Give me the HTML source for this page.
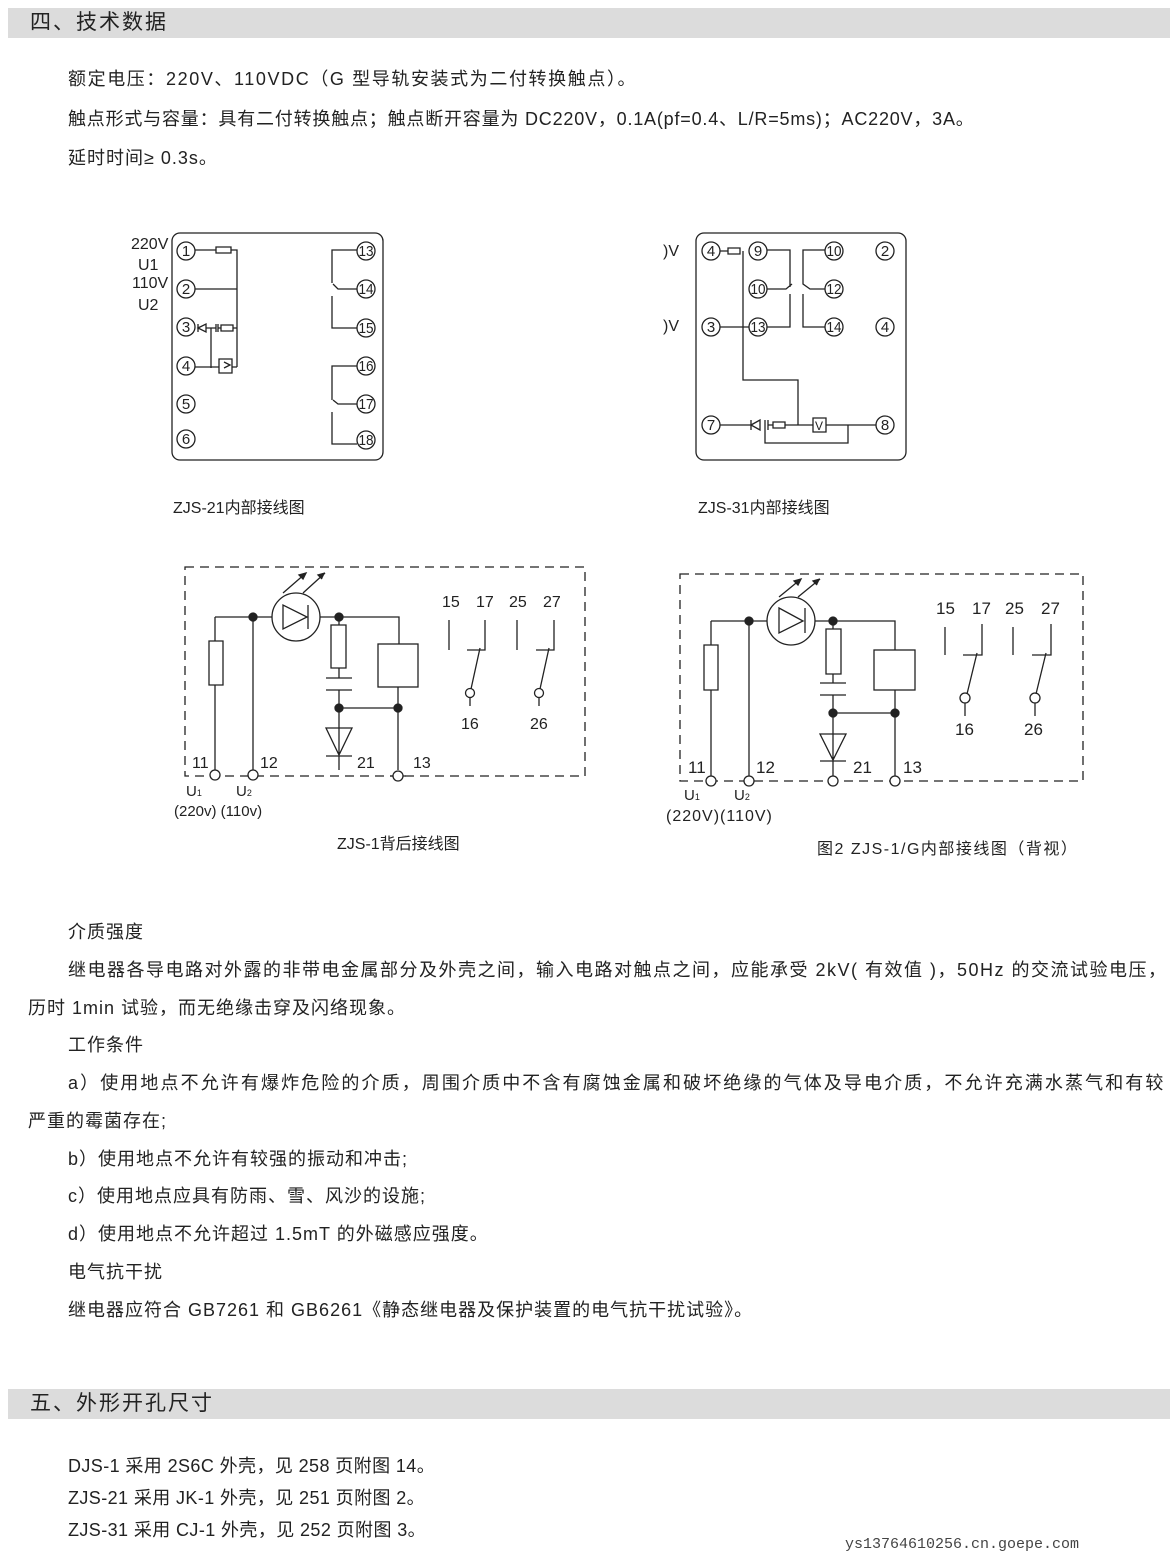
<!DOCTYPE html>
<html><head><meta charset="utf-8"><style>
body{margin:0;background:#fff;}
#p{position:relative;width:1170px;height:1561px;overflow:hidden;font-family:"Liberation Sans","Noto Sans CJK SC",sans-serif;color:#222;}
.t{position:absolute;white-space:nowrap;font-size:18px;line-height:20px;letter-spacing:1px;}
.h{position:absolute;left:8px;width:1162px;height:30px;background:#dcdcdc;font-size:21px;line-height:30px;}
.h span{margin-left:22px;letter-spacing:2px;}
svg{position:absolute;left:0;top:0;}
svg text{font-family:"Liberation Sans","Noto Sans CJK SC",sans-serif;fill:#222;}
</style></head><body><div id="p">
<div class="h" style="top:8px"><span>四、技术数据</span></div>
<div class="t" style="left:68px;top:69px;letter-spacing:1.6px">额定电压：220V、110VDC（G 型导轨安装式为二付转换触点）。</div>
<div class="t" style="left:68px;top:109px;letter-spacing:0.8px">触点形式与容量：具有二付转换触点；触点断开容量为 DC220V，0.1A(pf=0.4、L/R=5ms)；AC220V，3A。</div>
<div class="t" style="left:68px;top:148px">延时时间≥ 0.3s。</div>

<svg width="1170" height="1561" viewBox="0 0 1170 1561" fill="none" stroke="#222" stroke-width="1.3">
<!-- ZJS-21 -->
<rect x="172" y="233" width="211" height="227" rx="8"/>
<g font-size="16" stroke="none" fill="#222">
<text x="131" y="249">220V</text><text x="138" y="270">U1</text><text x="132" y="288">110V</text><text x="138" y="310">U2</text>
</g>
<g>
<circle cx="186" cy="251" r="9"/><circle cx="186" cy="289" r="9"/><circle cx="186" cy="327" r="9"/><circle cx="186" cy="366" r="9"/><circle cx="186" cy="404" r="9"/><circle cx="186" cy="439" r="9"/>
<circle cx="366" cy="251" r="9"/><circle cx="366" cy="289" r="9"/><circle cx="366" cy="328" r="9"/><circle cx="366" cy="366" r="9"/><circle cx="366" cy="404" r="9"/><circle cx="366" cy="440" r="9"/>
<path d="M195 250H216M216 247h15v6h-15zM231 250H237V367M195 289H237M233 328H237M221 325h12v6h-12zM216 324v8M218 324v8M218 328H221M206 328H216M198 328l8-4v8zM198 324v8M211 328V368M195 367H219M219 359h13v14h-13zM232 367H237"/>
<path d="M224 362l6 3-6 3"/>
<path d="M357 250H332V283M333 284l5 5H357M332 296V328H357M357 366H332V400M333 400l5 4H357M332 412V444H357"/>
</g>
<g font-size="15" stroke="none" fill="#222" text-anchor="middle">
<text x="186" y="256">1</text><text x="186" y="294">2</text><text x="186" y="332">3</text><text x="186" y="371">4</text><text x="186" y="409">5</text><text x="186" y="444">6</text>
<text x="366" y="256" textLength="15" lengthAdjust="spacingAndGlyphs">13</text><text x="366" y="294" textLength="15" lengthAdjust="spacingAndGlyphs">14</text><text x="366" y="333" textLength="15" lengthAdjust="spacingAndGlyphs">15</text><text x="366" y="371" textLength="15" lengthAdjust="spacingAndGlyphs">16</text><text x="366" y="409" textLength="15" lengthAdjust="spacingAndGlyphs">17</text><text x="366" y="445" textLength="15" lengthAdjust="spacingAndGlyphs">18</text>
</g>
<!-- ZJS-31 -->
<rect x="696" y="233" width="210" height="227" rx="8"/>
<g font-size="16" stroke="none" fill="#222"><text x="663" y="256">)V</text><text x="663" y="331">)V</text></g>
<g>
<circle cx="711" cy="251" r="9"/><circle cx="758" cy="251" r="9"/><circle cx="834" cy="251" r="9"/><circle cx="885" cy="251" r="9"/>
<circle cx="758" cy="289" r="9"/><circle cx="834" cy="289" r="9"/>
<circle cx="711" cy="327" r="9"/><circle cx="758" cy="327" r="9"/><circle cx="834" cy="327" r="9"/><circle cx="885" cy="327" r="9"/>
<circle cx="711" cy="425" r="9"/><circle cx="885" cy="425" r="9"/>
<path d="M720 251H728M728 248h12v6h-12zM743 251V380H798V425M720 327H749M767 250H790V287M767 289H786L792 284M790 294V327H767M825 250H803V284L810 289H825M803 294V327H825"/>
<path d="M720 425H751M751 425l9-5v10zM751 420v10M765 420v10M768 420v10M768 425H773M773 422h12v6h-12zM785 425H813M813 418h13v14h-13zM826 425H876M765 425V443H848V425"/>
</g>
<g font-size="15" stroke="none" fill="#222" text-anchor="middle">
<text x="711" y="256">4</text><text x="758" y="256">9</text><text x="834" y="256" textLength="15" lengthAdjust="spacingAndGlyphs">10</text><text x="885" y="256">2</text>
<text x="758" y="294" textLength="15" lengthAdjust="spacingAndGlyphs">10</text><text x="834" y="294" textLength="15" lengthAdjust="spacingAndGlyphs">12</text>
<text x="711" y="332">3</text><text x="758" y="332" textLength="15" lengthAdjust="spacingAndGlyphs">13</text><text x="834" y="332" textLength="15" lengthAdjust="spacingAndGlyphs">14</text><text x="885" y="332">4</text>
<text x="711" y="430">7</text><text x="885" y="430">8</text><text x="819" y="430" font-size="12">V</text>
</g>
<!-- ZJS-1 -->
<g>
<rect x="185" y="567" width="400" height="209" stroke-dasharray="9,6"/>
<path d="M215 617H272M320 617H399V644M215 617V641M209 641h14v44h-14zM215 685V770M253 617V770"/>
<circle cx="296" cy="617" r="24"/><path d="M283 605v24l24-12zM308 605v24"/>
<path d="M283 593L306 573M303 593L325 573"/>
<path d="M306 573l-7 2 4 4zM325 573l-7 2 4 4" fill="#222"/>
<path d="M339 617V625M331 625h15v43h-15zM339 668V678M326 678H352M326 690H352M339 690V770M339 708H398M326 728H352L339 755zM326 756H352"/>
<rect x="378" y="644" width="40" height="43"/><path d="M398 687V770M390 776H406"/>
<circle cx="215" cy="775" r="5" fill="#fff"/><circle cx="253" cy="775" r="5" fill="#fff"/><circle cx="398" cy="776" r="5" fill="#fff"/>
<circle cx="253" cy="617" r="4" fill="#222"/><circle cx="339" cy="617" r="4" fill="#222"/><circle cx="339" cy="708" r="4" fill="#222"/><circle cx="398" cy="708" r="4" fill="#222"/>
<path d="M449 620V650M485 620V650H467M480 648L471 689M470 697V706M517 620V650M554 620V650H536M549 648L540 689M539 697V706"/>
<circle cx="470" cy="693" r="4.5"/><circle cx="539" cy="693" r="4.5"/>
</g>
<g font-size="16" stroke="none" fill="#222">
<text x="442" y="607">15</text><text x="476" y="607">17</text><text x="509" y="607">25</text><text x="543" y="607">27</text>
<text x="461" y="729">16</text><text x="530" y="729">26</text>
<text x="192" y="768">11</text><text x="260" y="768">12</text><text x="357" y="768">21</text><text x="413" y="768">13</text>
<text x="186" y="796" font-size="15">U<tspan font-size="9">1</tspan></text><text x="236" y="796" font-size="15">U<tspan font-size="9">2</tspan></text>
<text x="174" y="816" font-size="15">(220v) (110v)</text>
</g>
<!-- ZJS-1/G -->
<g>
<rect x="680" y="574" width="403" height="207" stroke-dasharray="9,6"/>
<path d="M711 621H767M815 621H895V650M711 621V645M704 645h14v45h-14zM711 690V776M749 621V776"/>
<circle cx="791" cy="621" r="24"/><path d="M779 608v25l24-12zM805 608v25"/>
<path d="M779 597L801 579M798 597L820 579"/>
<path d="M801 579l-7 2 4 4zM820 579l-7 2 4 4" fill="#222"/>
<path d="M833 621V629M826 629h15v45h-15zM833 674V683M820 683H846M820 695H846M833 695V776M833 713H895M820 734H846L833 760zM820 761H846"/>
<rect x="874" y="650" width="41" height="40"/><path d="M895 690V776"/>
<circle cx="711" cy="781" r="5" fill="#fff"/><circle cx="749" cy="781" r="5" fill="#fff"/><circle cx="833" cy="781" r="5" fill="#fff"/><circle cx="895" cy="781" r="5" fill="#fff"/>
<circle cx="749" cy="621" r="4" fill="#222"/><circle cx="833" cy="621" r="4" fill="#222"/><circle cx="833" cy="713" r="4" fill="#222"/><circle cx="895" cy="713" r="4" fill="#222"/>
<path d="M945 627V655M982 624V655H963M977 653L967 694M965 703V716M1013 627V655M1051 624V655H1032M1046 653L1036 694M1035 703V716"/>
<circle cx="965" cy="698" r="5"/><circle cx="1035" cy="698" r="5"/>
</g>
<g font-size="17" stroke="none" fill="#222">
<text x="936" y="614">15</text><text x="972" y="614">17</text><text x="1005" y="614">25</text><text x="1041" y="614">27</text>
<text x="955" y="735">16</text><text x="1024" y="735">26</text>
<text x="688" y="773">11</text><text x="756" y="773">12</text><text x="853" y="773">21</text><text x="903" y="773">13</text>
<text x="684" y="800" font-size="15">U<tspan font-size="9">1</tspan></text><text x="734" y="800" font-size="15">U<tspan font-size="9">2</tspan></text>
<text x="666" y="821" font-size="16" letter-spacing="1">(220V)(110V)</text>
</g>
<g font-size="16" stroke="none" fill="#222">
<text x="173" y="513">ZJS-21内部接线图</text>
<text x="698" y="513">ZJS-31内部接线图</text>
<text x="337" y="849">ZJS-1背后接线图</text>
<text x="817" y="854" letter-spacing="1.5">图2  ZJS-1/G内部接线图（背视）</text>
</g>
</svg>

<div class="t" style="left:68px;top:922px">介质强度</div>
<div class="t" style="left:68px;top:960px;letter-spacing:1.5px">继电器各导电路对外露的非带电金属部分及外壳之间，输入电路对触点之间，应能承受 2kV( 有效值 )，50Hz 的交流试验电压，</div>
<div class="t" style="left:28px;top:998px">历时 1min 试验，而无绝缘击穿及闪络现象。</div>
<div class="t" style="left:68px;top:1035px">工作条件</div>
<div class="t" style="left:68px;top:1073px;letter-spacing:2.1px">a）使用地点不允许有爆炸危险的介质，周围介质中不含有腐蚀金属和破坏绝缘的气体及导电介质，不允许充满水蒸气和有较</div>
<div class="t" style="left:28px;top:1111px">严重的霉菌存在;</div>
<div class="t" style="left:68px;top:1149px">b）使用地点不允许有较强的振动和冲击;</div>
<div class="t" style="left:68px;top:1186px">c）使用地点应具有防雨、雪、风沙的设施;</div>
<div class="t" style="left:68px;top:1224px">d）使用地点不允许超过 1.5mT 的外磁感应强度。</div>
<div class="t" style="left:68px;top:1262px">电气抗干扰</div>
<div class="t" style="left:68px;top:1300px">继电器应符合 GB7261 和 GB6261《静态继电器及保护装置的电气抗干扰试验》。</div>

<div class="h" style="top:1389px"><span>五、外形开孔尺寸</span></div>
<div class="t" style="left:68px;top:1456px;letter-spacing:0.4px">DJS-1 采用 2S6C 外壳，见 258 页附图 14。</div>
<div class="t" style="left:68px;top:1488px;letter-spacing:0.4px">ZJS-21 采用 JK-1 外壳，见 251 页附图 2。</div>
<div class="t" style="left:68px;top:1520px;letter-spacing:0.4px">ZJS-31 采用 CJ-1 外壳，见 252 页附图 3。</div>
<div class="t" style="left:845px;top:1535px;font-family:'Liberation Mono',monospace;font-size:15px;letter-spacing:0;color:#444">ys13764610256.cn.goepe.com</div>
</div></body></html>
